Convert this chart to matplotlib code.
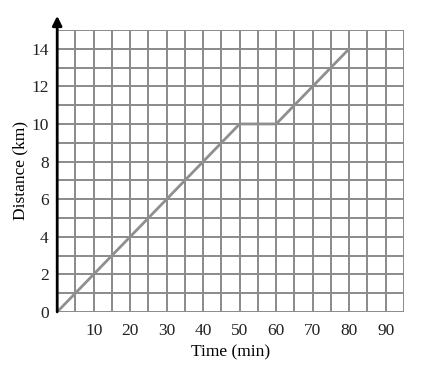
import matplotlib.pyplot as plt
import numpy as np

# data
time_min = [0, 50, 60, 80]
dist_km = [0, 10, 10, 14]
xticks = [10, 20, 30, 40, 50, 60, 70, 80, 90]
yticks = [0, 2, 4, 6, 8, 10, 12, 14]

plt.rcParams['font.family'] = ['Liberation Serif', 'DejaVu Serif']

fig = plt.figure(figsize=(4.4, 3.7), dpi=100)
ax = fig.add_axes([0.13, 0.157, 0.788, 0.762])

# grid
for gx in np.arange(5, 96, 5):
    ax.axvline(gx, color='#8a8a8a', lw=1.4, zorder=1)
for gy in np.arange(0, 16, 1):
    ax.axhline(gy, color='#8a8a8a', lw=1.4, zorder=1)

ax.plot(time_min, dist_km, color='#8f8f8f', lw=2.0, zorder=2)

ax.set_xlim(0, 95)
ax.set_ylim(0, 15)
for s in ['top', 'right', 'bottom', 'left']:
    ax.spines[s].set_visible(False)

# y axis with arrow
ax.annotate('', xy=(0, 15.75), xytext=(0, 0), xycoords='data',
            arrowprops=dict(arrowstyle='-|>', color='black', lw=2,
                            mutation_scale=14, shrinkA=0, shrinkB=0),
            annotation_clip=False, zorder=3)

ax.set_xticks(xticks)
ax.set_yticks(yticks)
ax.tick_params(length=0, labelsize=12.5, colors='#222222')
ax.tick_params(axis='x', pad=8)
ax.tick_params(axis='y', pad=6)
ax.set_xlabel('Time (min)', fontsize=12.5, labelpad=4)
ax.set_ylabel('Distance (km)', fontsize=12.5, labelpad=2)

fig.savefig('out.png', dpi=100)
